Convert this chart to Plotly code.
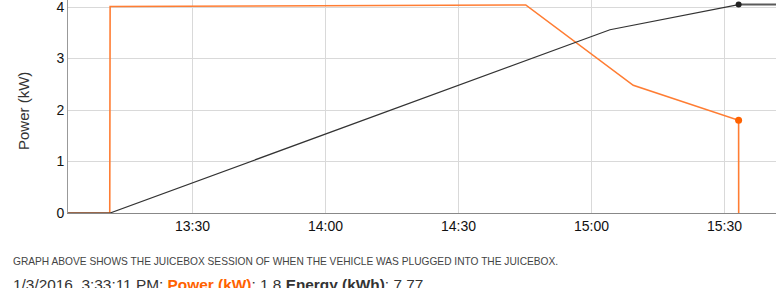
import plotly.graph_objects as go

# ---- data ----
power_times = ["2016-01-03 13:01:55", "2016-01-03 13:11:20", "2016-01-03 13:11:25",
               "2016-01-03 14:45:10", "2016-01-03 15:09:25", "2016-01-03 15:33:11",
               "2016-01-03 15:33:12"]
power_kw = [0, 0, 4.01, 4.04, 2.48, 1.8, 0]

energy_times = ["2016-01-03 13:01:55", "2016-01-03 13:11:25", "2016-01-03 15:04:10",
                "2016-01-03 15:33:11"]
energy_kwh = [0, 0, 6.83, 7.77]

energy_tail_times = ["2016-01-03 15:33:11", "2016-01-03 15:41:37"]
energy_tail_kwh = [7.77, 7.77]

last_time = ["2016-01-03 15:33:11"]
last_power = [1.8]
last_energy = [7.77]

x_range = ["2016-01-03 13:01:55", "2016-01-03 15:41:37"]
power_range = [0, 4.136]
energy_range = [0, 7.94]

caption = "GRAPH ABOVE SHOWS THE JUICEBOX SESSION OF WHEN THE VEHICLE WAS PLUGGED INTO THE JUICEBOX."
status_time = "1/3/2016, 3:33:11 PM"

ORANGE_LINE = "#ff7d33"
ORANGE = "#ff6200"
FONT = "Liberation Sans, Arial, sans-serif"

fig = go.Figure()
fig.add_trace(go.Scatter(x=energy_tail_times, y=energy_tail_kwh, yaxis="y2", mode="lines",
                         line=dict(color="#5a5a5a", width=2), hoverinfo="skip", showlegend=False))
fig.add_trace(go.Scatter(x=energy_times, y=energy_kwh, yaxis="y2", mode="lines",
                         line=dict(color="#333333", width=1.2), showlegend=False))
fig.add_trace(go.Scatter(x=last_time, y=last_energy, yaxis="y2", mode="markers",
                         marker=dict(color="#222222", size=6), showlegend=False))
fig.add_trace(go.Scatter(x=power_times, y=power_kw, mode="lines",
                         line=dict(color=ORANGE_LINE, width=1.6), showlegend=False))
fig.add_trace(go.Scatter(x=last_time, y=last_power, mode="markers",
                         marker=dict(color=ORANGE, size=7), showlegend=False))

W, H = 776, 288
L, B = 68, 75
plot_w = W - L
plot_h = H - B

def px_x(x):
    return (x - L) / plot_w

def px_y(y):
    return (plot_h - y) / plot_h

fig.update_layout(
    width=W, height=H,
    margin=dict(l=L, r=0, t=0, b=B),
    paper_bgcolor="white", plot_bgcolor="white",
    font=dict(family=FONT, color="#222222", size=14),
    xaxis=dict(type="date", range=x_range, tickformat="%H:%M", dtick=30 * 60 * 1000,
               tick0="2016-01-03 13:00:00", showgrid=True, gridcolor="#d9d9d9", gridwidth=1,
               showline=True, linecolor="#888888", linewidth=1, ticks="", zeroline=False,
               tickfont=dict(size=14, color="#111111")),
    yaxis=dict(range=power_range, dtick=1, tick0=0, showgrid=True, gridcolor="#d9d9d9",
               showline=True, linecolor="#999999", linewidth=1, ticks="", zeroline=False,
               ticklabeloverflow="allow",
               tickfont=dict(size=14, color="#111111")),
    yaxis2=dict(range=energy_range, overlaying="y", side="right", visible=False),
    showlegend=False,
)

fig.add_annotation(text="Power (kW)", textangle=-90, xref="paper", yref="paper",
                   x=px_x(23), y=px_y(111), xanchor="center", yanchor="middle",
                   showarrow=False, font=dict(size=15, color="#333333", family=FONT))
fig.add_annotation(text=caption, xref="paper", yref="paper",
                   x=px_x(11), y=px_y(261), xanchor="left", yanchor="middle",
                   showarrow=False, font=dict(size=10.2, color="#444444", family=FONT))
status = (f"{status_time}: <b><span style='color:{ORANGE}'>Power (kW)</span></b>: "
          f"{last_power[0]} <b>Energy (kWh)</b>: {last_energy[0]}")
fig.add_annotation(text=status, xref="paper", yref="paper",
                   x=px_x(11), y=px_y(284), xanchor="left", yanchor="middle",
                   showarrow=False, font=dict(size=15.4, color="#333333", family=FONT))

fig.write_html("out.html")
